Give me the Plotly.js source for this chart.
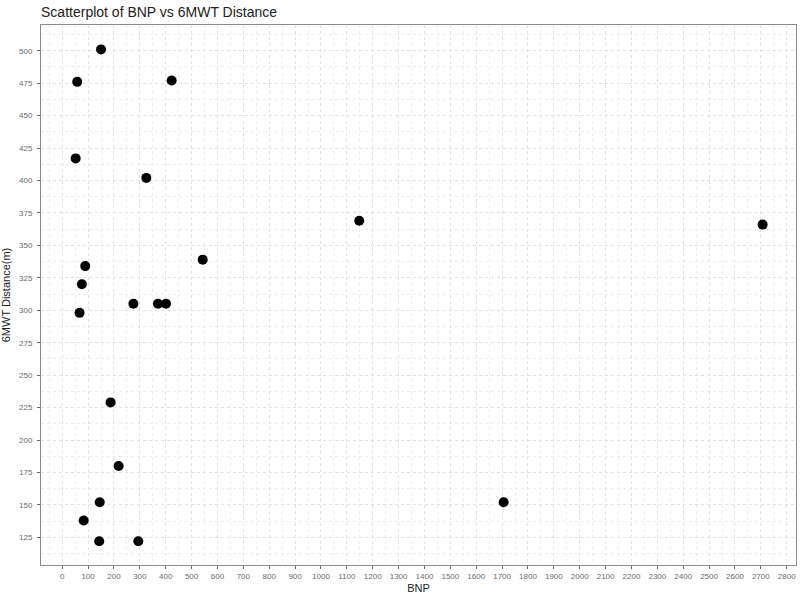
<!DOCTYPE html>
<html>
<head>
<meta charset="utf-8">
<script src="https://cdn.plot.ly/plotly-3.0.1.min.js"></script>
<style>html,body{margin:0;padding:0;background:#fff;}#chart{width:800px;height:597px;}</style>
</head>
<body>
<div id="chart"></div>
<script>
const bnp = [150, 58, 423, 52, 325, 1148, 2707, 543, 89, 76, 275, 370, 401, 67, 187, 218, 145, 1706, 83, 143, 294];
const distance = [501, 476, 477, 417, 402, 369, 366, 339, 334, 320, 305, 305, 305, 298, 229, 180, 152, 152, 138, 122, 122];
const xTickVals = Array.from({length: 29}, (_, i) => i * 100);
const yTickVals = [125, 150, 175, 200, 225, 250, 275, 300, 325, 350, 375, 400, 425, 450, 475, 500];

const trace = {
  x: bnp, y: distance, type: 'scatter', mode: 'markers',
  marker: {color: '#000000', size: 10},
  hoverinfo: 'x+y'
};

const axisCommon = {
  showline: true, linecolor: '#8c8c8c', linewidth: 1, mirror: true,
  ticks: 'outside', ticklen: 3, tickcolor: '#666666', tickwidth: 1,
  tickfont: {family: 'Liberation Sans, Arial, sans-serif', size: 8, color: '#6b6b6b'},
  gridcolor: '#e2e2e2', griddash: 'dot', gridwidth: 1,
  zeroline: false
};

const layout = {
  width: 800, height: 597,
  margin: {l: 41, r: 4, t: 25, b: 32},
  paper_bgcolor: '#ffffff', plot_bgcolor: '#ffffff',
  showlegend: false,
  title: {
    text: 'Scatterplot of BNP vs 6MWT Distance',
    font: {family: 'Liberation Sans, Arial, sans-serif', size: 14, color: '#222222'},
    x: 0.0513, xanchor: 'left', y: 0.98, yanchor: 'middle'
  },
  xaxis: Object.assign({}, axisCommon, {
    range: [-82, 2836],
    tickvals: xTickVals,
    ticktext: xTickVals.map(String),
    tickangle: 0,
    minor: {dtick: 50, tick0: 0, showgrid: true, gridcolor: '#eeeeee', griddash: 'dot', ticks: ''},
    title: {text: 'BNP', font: {family: 'Liberation Sans, Arial, sans-serif', size: 11, color: '#222222'}, standoff: 4}
  }),
  yaxis: Object.assign({}, axisCommon, {
    range: [103.7, 519.8],
    tickvals: yTickVals,
    ticktext: yTickVals.map(String),
    ticklabelstandoff: 3,
    minor: {dtick: 12.5, tick0: 0, showgrid: true, gridcolor: '#eeeeee', griddash: 'dot', ticks: ''},
    title: {text: '6MWT Distance(m)', font: {family: 'Liberation Sans, Arial, sans-serif', size: 11, color: '#222222'}, standoff: 6}
  })
};

Plotly.newPlot('chart', [trace], layout, {displayModeBar: false, staticPlot: true});
</script>
</body>
</html>
